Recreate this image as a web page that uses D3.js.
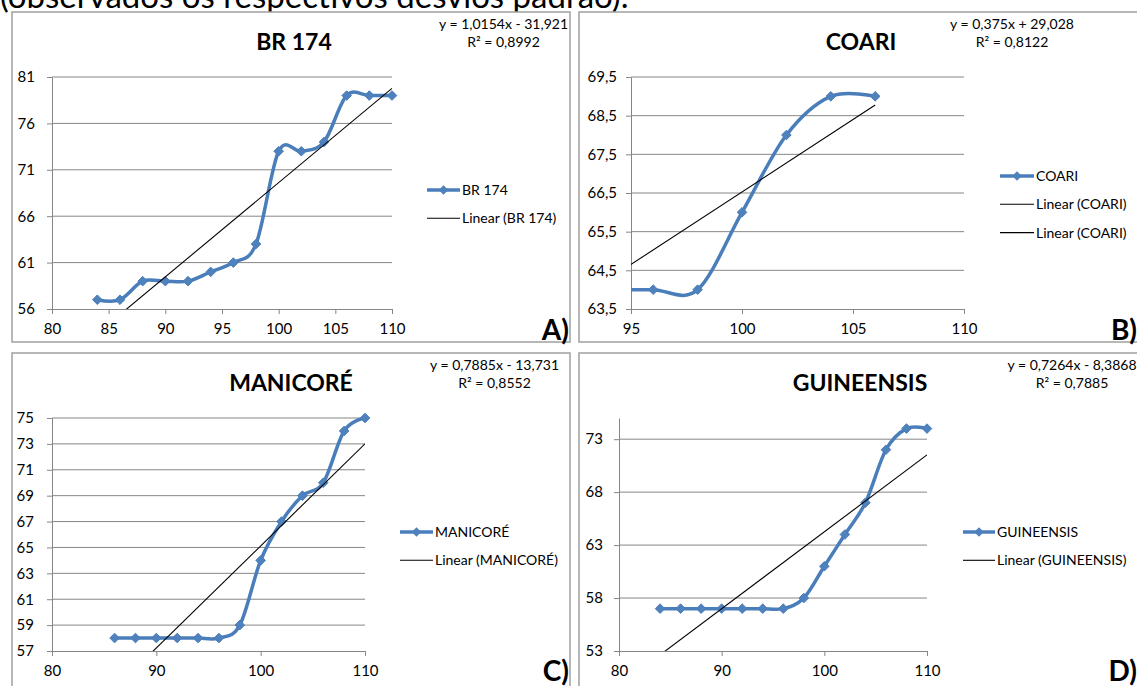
<!DOCTYPE html>
<html>
<head>
<meta charset="utf-8">
<script src="https://cdn.jsdelivr.net/npm/d3@7"></script>
<style>
    body { margin: 0; background: #fff; }
    text { font-family: Lato, "Open Sans", sans-serif; fill: #000; }
</style>
</head>
<body>
<svg id="chart" width="1137" height="686"></svg>
<script>
// Series values (x = 2-step values, y =)
var xBR174 = [84, 86, 88, 90, 92, 94, 96, 98, 100, 102, 104, 106, 108, 110];
var yBR174 = [57, 57, 59, 59, 59, 60, 61, 63, 73, 73, 74, 79, 79, 79];
var xCoari = [90, 92, 94, 96, 98, 100, 102, 104, 106];
var yCoari = [64, 64, 64, 64, 64, 66, 68, 69, 69];
var xManicore = [86, 88, 90, 92, 94, 96, 98, 100, 102, 104, 106, 108, 110];
var yManicore = [58, 58, 58, 58, 58, 58, 59, 64, 67, 69, 70, 74, 75];
var xGuineensis = [84, 86, 88, 90, 92, 94, 96, 98, 100, 102, 104, 106, 108, 110];
var yGuineensis = [57, 57, 57, 57, 57, 57, 57, 58, 61, 64, 67, 72, 74, 74];

var seriesNames = ["BR 174", "COARI", "MANICORÉ", "GUINEENSIS"];
var trendSlopes = [1.0154, 0.375, 0.7885, 0.7264];
var trendIntercepts = [-31.921, 29.028, -13.731, -8.3868];
var equationLabels = ["y = 1,0154x - 31,921", "y = 0,375x + 29,028", "y = 0,7885x - 13,731", "y = 0,7264x - 8,3868"];
var r2Labels = ["R² = 0,8992", "R² = 0,8122", "R² = 0,8552", "R² = 0,7885"];
var panelLetters = ["A)", "B)", "C)", "D)"];
var trendLegendCount = [1, 2, 1, 1];

// Axes
var xDomains = [[80, 110], [95, 110], [80, 110], [80, 110]];
var yDomains = [[56, 81], [63.5, 69.5], [57, 75], [53, 75]];
var xTickValues = [[80, 85, 90, 95, 100, 105, 110], [95, 100, 105, 110], [80, 90, 100, 110], [80, 90, 100, 110]];
var yTickValues = [[56, 61, 66, 71, 76, 81], [63.5, 64.5, 65.5, 66.5, 67.5, 68.5, 69.5],
    [57, 59, 61, 63, 65, 67, 69, 71, 73, 75], [53, 58, 63, 68, 73]];

var seriesX = [xBR174, xCoari, xManicore, xGuineensis];
var seriesY = [yBR174, yCoari, yManicore, yGuineensis];

// Layout of the four panels (pixels)
var layout = [
    { frame: [12, 12, 570, 342], plot: [52, 392, 77, 309], title: [294, 42], eq: [503.5, 24], legend: [427, 460, 190], letter: [569, 340], yPad: 12 },
    { frame: [579, 12, 1145, 342], plot: [631, 964, 77, 309], title: [861, 42], eq: [1012, 24], legend: [1000, 1034, 176], letter: [1137, 340], yPad: 9 },
    { frame: [12, 353, 570, 700], plot: [52, 365, 418, 651], title: [291, 383], eq: [494.5, 365], legend: [400, 433, 532], letter: [569, 681], yPad: 13 },
    { frame: [579, 353, 1145, 700], plot: [619, 927, 418, 651], title: [860, 383], eq: [1072, 365], legend: [963, 995, 532], letter: [1137, 681], yPad: 11 }
];

var blue = "#4F81BD";
var gridColor = "#868686";
var svg = d3.select("#chart");

// page caption cut at the top
svg.append("text")
    .attr("x", 0)
    .attr("y", 8)
    .attr("font-size", "33px")
    .text("(observados os respectivos desvios padrão).");

function diamond(r) {
    return "M0," + (-r) + "L" + r + ",0L0," + r + "L" + (-r) + ",0Z";
}

function commaFormat(d) {
    return String(d).replace(".", ",");
}

function drawPanel(i) {
    var L = layout[i];
    var f = L.frame, p = L.plot;
    var g = svg.append("g");

    g.append("rect")
        .attr("x", f[0]).attr("y", f[1])
        .attr("width", f[2] - f[0]).attr("height", f[3] - f[1])
        .attr("fill", "#fff")
        .attr("stroke", "#a0a0a0")
        .attr("stroke-width", 1.5);

    var x = d3.scaleLinear().domain(xDomains[i]).range([p[0], p[1]]);
    var y = d3.scaleLinear().domain(yDomains[i]).range([p[3], p[2]]);

    // horizontal gridlines
    g.selectAll(".grid")
        .data(yTickValues[i].filter(function (d) { return d > yDomains[i][0]; }))
        .enter()
        .append("line")
        .attr("x1", p[0]).attr("x2", p[1])
        .attr("y1", function (d) { return y(d); })
        .attr("y2", function (d) { return y(d); })
        .attr("stroke", gridColor)
        .attr("stroke-width", 1);

    var xAxis = g.append("g")
        .attr("transform", "translate(0," + p[3] + ")")
        .call(d3.axisBottom(x).tickValues(xTickValues[i]).tickSize(5).tickSizeOuter(0).tickPadding(9));
    var yAxis = g.append("g")
        .attr("transform", "translate(" + p[0] + ",0)")
        .call(d3.axisLeft(y).tickValues(yTickValues[i]).tickFormat(commaFormat).tickSize(5).tickSizeOuter(0).tickPadding(L.yPad));
    [xAxis, yAxis].forEach(function (a) {
        a.select(".domain").attr("stroke", gridColor);
        a.selectAll(".tick line").attr("stroke", gridColor);
        a.selectAll(".tick text").attr("font-size", "15px").attr("font-family", "Lato, sans-serif").attr("fill", "#000");
    });

    // clip paths
    g.append("clipPath").attr("id", "clipS" + i)
        .append("rect")
        .attr("x", p[0]).attr("y", p[2] - 10)
        .attr("width", p[1] - p[0] + 10).attr("height", p[3] - p[2] + 20);
    g.append("clipPath").attr("id", "clipT" + i)
        .append("rect")
        .attr("x", p[0]).attr("y", p[2])
        .attr("width", p[1] - p[0]).attr("height", p[3] - p[2]);

    var pts = seriesX[i].map(function (d, k) { return [d, seriesY[i][k]]; });

    var line = d3.line()
        .x(function (d) { return x(d[0]); })
        .y(function (d) { return y(d[1]); })
        .curve(d3.curveCardinal.tension(0));

    g.append("path")
        .datum(pts)
        .attr("clip-path", "url(#clipS" + i + ")")
        .attr("d", line)
        .attr("fill", "none")
        .attr("stroke", "#4A7EBB")
        .attr("stroke-width", 3.5)
        .attr("stroke-linejoin", "round");

    g.selectAll(".marker")
        .data(pts.filter(function (d) { return d[0] >= xDomains[i][0]; }))
        .enter()
        .append("path")
        .attr("d", diamond(4.8))
        .attr("transform", function (d) { return "translate(" + x(d[0]) + "," + y(d[1]) + ")"; })
        .attr("fill", blue)
        .attr("stroke", "#4A7EBB")
        .attr("stroke-width", 1);

    // linear trendline over the data range
    var x0 = d3.min(seriesX[i]), x1 = d3.max(seriesX[i]);
    g.append("line")
        .attr("clip-path", "url(#clipT" + i + ")")
        .attr("x1", x(x0)).attr("y1", y(trendSlopes[i] * x0 + trendIntercepts[i]))
        .attr("x2", x(x1)).attr("y2", y(trendSlopes[i] * x1 + trendIntercepts[i]))
        .attr("stroke", "#000")
        .attr("stroke-width", 1.1);

    // title
    g.append("text")
        .attr("x", L.title[0]).attr("y", L.title[1])
        .attr("dy", "0.35em")
        .attr("text-anchor", "middle")
        .attr("font-size", "23px")
        .attr("font-weight", "bold")
        .text(seriesNames[i]);

    // equation and R²
    g.append("text")
        .attr("x", L.eq[0]).attr("y", L.eq[1])
        .attr("dy", "0.35em")
        .attr("text-anchor", "middle")
        .attr("font-size", "14px")
        .text(equationLabels[i]);
    g.append("text")
        .attr("x", L.eq[0]).attr("y", L.eq[1] + 18)
        .attr("dy", "0.35em")
        .attr("text-anchor", "middle")
        .attr("font-size", "14px")
        .text(r2Labels[i]);

    // legend
    var lg = L.legend;
    var entries = [{ label: seriesNames[i], series: true }];
    for (var k = 0; k < trendLegendCount[i]; k++) {
        entries.push({ label: "Linear (" + seriesNames[i] + ")", series: false });
    }
    entries.forEach(function (e, k) {
        var ly = lg[2] + k * 28.3;
        g.append("line")
            .attr("x1", lg[0]).attr("x2", lg[1])
            .attr("y1", ly).attr("y2", ly)
            .attr("stroke", e.series ? "#4A7EBB" : "#000")
            .attr("stroke-width", e.series ? 3.5 : 1.1);
        if (e.series) {
            g.append("path")
                .attr("d", diamond(4.8))
                .attr("transform", "translate(" + (lg[0] + lg[1]) / 2 + "," + ly + ")")
                .attr("fill", blue);
        }
        g.append("text")
            .attr("x", lg[1] + 2).attr("y", ly)
            .attr("dy", "0.35em")
            .attr("font-size", "14px")
            .text(e.label);
    });

    g.append("text")
        .attr("x", L.letter[0]).attr("y", L.letter[1])
        .attr("text-anchor", "end")
        .attr("font-size", "28px")
        .attr("font-weight", "bold")
        .text(panelLetters[i]);
}

for (var i = 0; i < 4; i++) {
    drawPanel(i);
}
</script>
</body>
</html>
